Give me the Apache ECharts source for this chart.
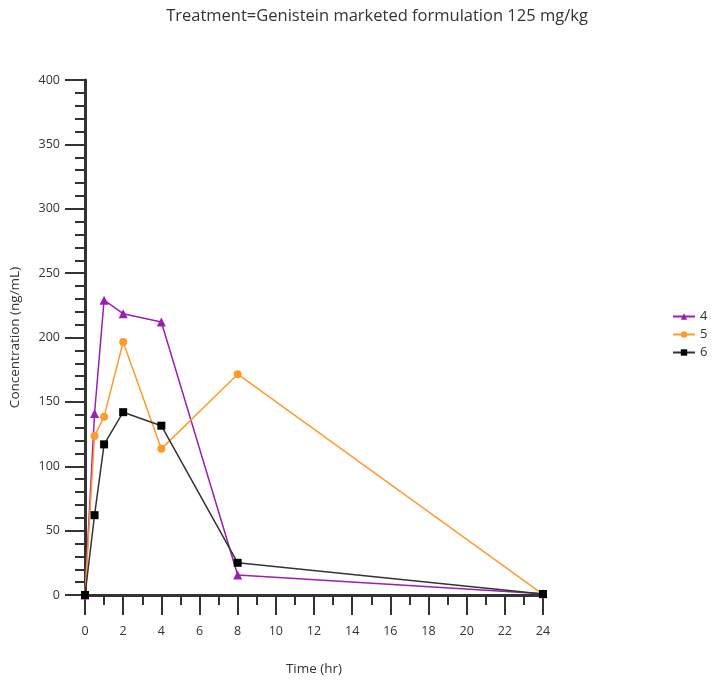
<!DOCTYPE html>
<html>
<head>
<meta charset="utf-8">
<script src="https://cdn.jsdelivr.net/npm/echarts@6/dist/echarts.min.js"></script>
<style>html,body{margin:0;padding:0;background:#fff}#c{width:714px;height:683px}</style>
</head>
<body>
<div id="c"></div>
<script>
const times = [0, 0.5, 1, 2, 4, 8, 24];
const series4 = [0, 141, 229, 218.5, 212, 15.5, 1];
const series5 = [0, 123.5, 138.5, 196.5, 113.5, 171.5, 0.5];
const series6 = [0, 62, 117, 142, 131.5, 25, 0.8];
const seriesNames = ['4', '5', '6'];
const titleText = 'Treatment=Genistein marketed formulation 125 mg/kg';

const FONT = 'Open Sans';
const pair = (vals) => times.map((t, i) => [t, vals[i]]);

const chart = echarts.init(document.getElementById('c'), null, {renderer: 'canvas'});
chart.setOption({
  animation: false,
  backgroundColor: '#fff',
  textStyle: {fontFamily: FONT},
  title: {
    text: titleText,
    left: 372, textAlign: 'center', top: 3,
    textStyle: {fontFamily: FONT, fontSize: 16.5, fontWeight: 'normal', color: '#333'}
  },
  legend: {
    orient: 'vertical',
    left: 667, top: 305,
    itemWidth: 22, itemHeight: 8, itemGap: 5,
    textStyle: {fontFamily: FONT, fontSize: 13, color: '#333'},
    data: seriesNames
  },
  grid: {left: 84, right: 171, top: 80, bottom: 88, containLabel: false},
  xAxis: {
    type: 'value', min: 0, max: 24, interval: 2,
    name: 'Time (hr)', nameLocation: 'middle', nameGap: 67,
    nameTextStyle: {fontFamily: FONT, fontSize: 13.5, color: '#333'},
    axisLine: {lineStyle: {color: '#333', width: 3}},
    axisTick: {show: true, length: 20, lineStyle: {color: '#333', width: 2}},
    minorTick: {show: true, splitNumber: 2, length: 10, lineStyle: {color: '#333', width: 2}},
    axisLabel: {margin: 30, fontFamily: FONT, fontSize: 12.5, color: '#333'},
    splitLine: {show: false}
  },
  yAxis: {
    type: 'value', min: 0, max: 400, interval: 50,
    name: 'Concentration (ng/mL)', nameLocation: 'middle', nameGap: 63,
    nameTextStyle: {fontFamily: FONT, fontSize: 13.5, color: '#333'},
    axisLine: {show: true, lineStyle: {color: '#333', width: 3}},
    axisTick: {show: true, length: 20, lineStyle: {color: '#333', width: 2}},
    minorTick: {show: true, splitNumber: 5, length: 10, lineStyle: {color: '#333', width: 2}},
    axisLabel: {margin: 25, fontFamily: FONT, fontSize: 12.5, color: '#333'},
    splitLine: {show: false}
  },
  series: [
    {name: seriesNames[0], type: 'line', data: pair(series4), symbol: 'triangle', symbolSize: 9,
     color: '#9b1fb3', lineStyle: {width: 1.5}, itemStyle: {color: '#9b1fb3'}},
    {name: seriesNames[1], type: 'line', data: pair(series5), symbol: 'circle', symbolSize: 8,
     color: '#ff9a2e', lineStyle: {width: 1.5}, itemStyle: {color: '#ff9a2e'}},
    {name: seriesNames[2], type: 'line', data: pair(series6), symbol: 'rect', symbolSize: 8,
     color: '#111', lineStyle: {width: 1.5, color: '#333'}, itemStyle: {color: '#000'}}
  ]
});
</script>
</body>
</html>
